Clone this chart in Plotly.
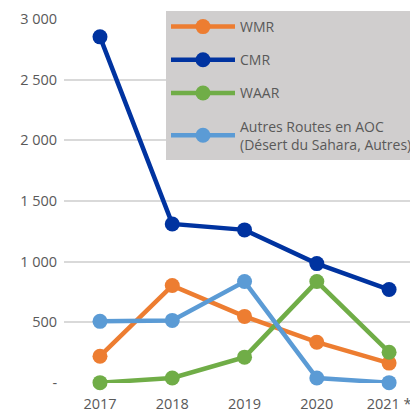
import plotly.graph_objects as go

years = ["2017", "2018", "2019", "2020", "2021 *"]
wmr = [221, 803, 549, 336, 164]
cmr = [2853, 1311, 1262, 984, 770]
waar = [3, 41, 213, 836, 254]
autres = [508, 516, 836, 41, 3]
series_names = ["WMR", "CMR", "WAAR", "Autres Routes en AOC<br>(Désert du Sahara, Autres)"]
colors = ["#ED7D31", "#0033A0", "#70AD47", "#5B9BD5"]
ytick_vals = [0, 500, 1000, 1500, 2000, 2500, 3000]
ytick_text = ["-", "500", "1 000", "1 500", "2 000", "2 500", "3 000"]

xpos = list(range(len(years)))
fig = go.Figure()
for i, (name, vals, col) in enumerate(zip(series_names, [wmr, cmr, waar, autres], colors)):
    fig.add_trace(go.Scatter(
        x=xpos, y=vals, name=name, mode="lines+markers",
        line=dict(color=col, width=4.5),
        marker=dict(color=col, size=15),
        cliponaxis=False, legendgroup=f"g{i}",
    ))

# page body has an 8px margin, so the figure is 410x405 and offset by 8px
fig.update_layout(
    width=410, height=405,
    margin=dict(l=56, r=0, t=11, b=28),
    paper_bgcolor="white", plot_bgcolor="white",
    font=dict(family="Open Sans, Liberation Sans, sans-serif", size=14.5, color="#595959"),
    showlegend=True,
    legend=dict(
        x=102/354, xref="paper", xanchor="left",
        y=1.022, yanchor="top",
        bgcolor="#D0CECE", borderwidth=0,
        font=dict(size=14, color="#595959"),
        itemwidth=64, tracegroupgap=12,
    ),
    xaxis=dict(
        tickmode="array", tickvals=xpos, ticktext=years,
        range=[-0.498, 4.40], showgrid=False, zeroline=False,
        showline=False, ticks="outside", ticklen=8, tickcolor="rgba(0,0,0,0)",
        tickfont=dict(size=14.5, color="#595959"),
    ),
    yaxis=dict(
        tickmode="array", tickvals=ytick_vals, ticktext=ytick_text,
        range=[0, 3000], showgrid=True, gridcolor="#D9D9D9", gridwidth=1.5,
        zeroline=False, ticks="outside", ticklen=3, tickcolor="rgba(0,0,0,0)",
        tickfont=dict(size=14.5, color="#595959"),
    ),
)
fig.write_html("out.html")
